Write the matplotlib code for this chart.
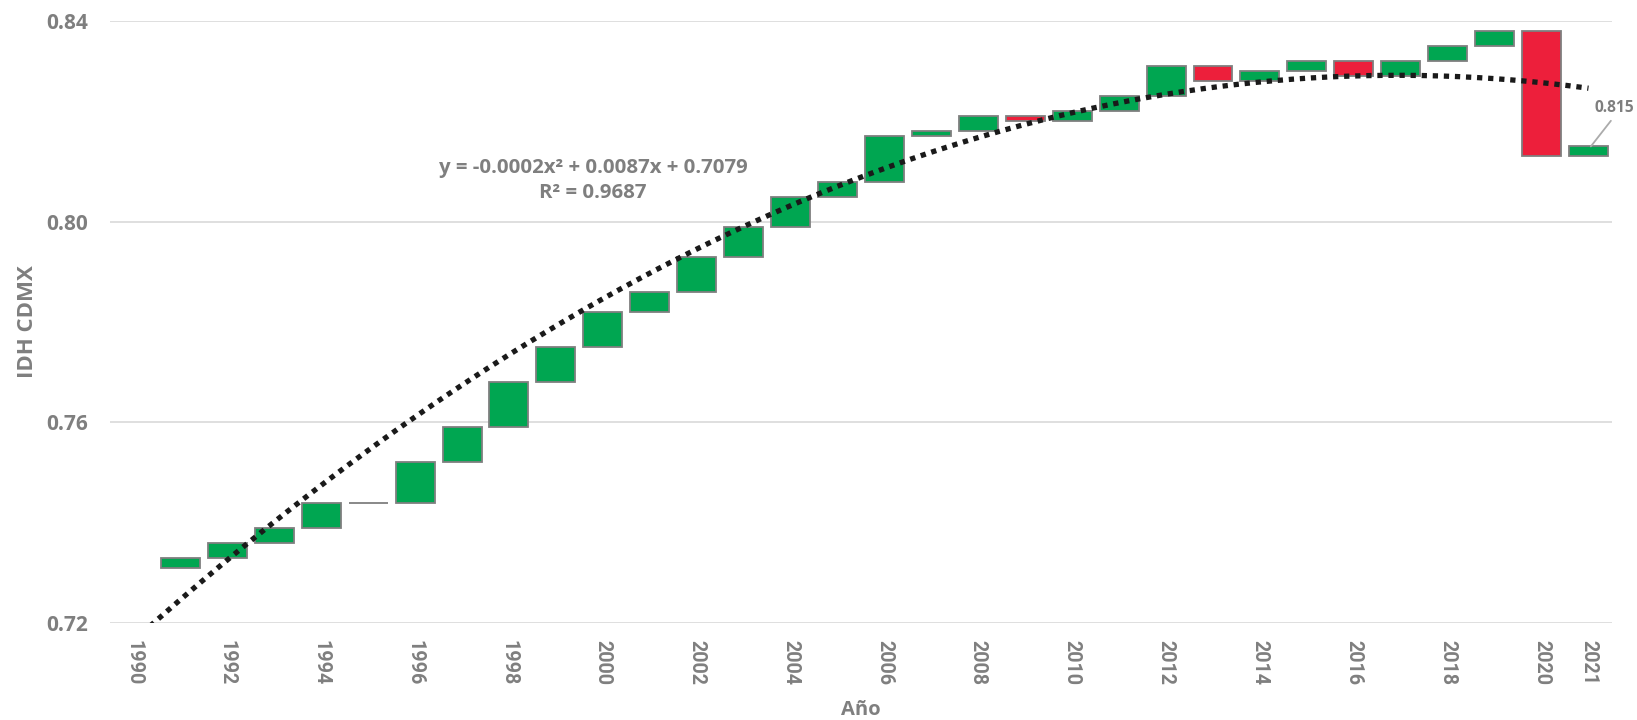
import numpy as np
import matplotlib
matplotlib.use("Agg")
import matplotlib.pyplot as plt

years = list(range(1990, 2022))
idh = [0.731, 0.733, 0.736, 0.739, 0.744, 0.744, 0.752, 0.759, 0.768, 0.775,
       0.782, 0.786, 0.793, 0.799, 0.805, 0.808, 0.817, 0.818, 0.821, 0.820,
       0.822, 0.825, 0.831, 0.828, 0.830, 0.832, 0.829, 0.832, 0.835, 0.838,
       0.813, 0.815]
tick_years = [1990, 1992, 1994, 1996, 1998, 2000, 2002, 2004, 2006, 2008,
              2010, 2012, 2014, 2016, 2018, 2020, 2021]
y_ticks = [0.72, 0.76, 0.80, 0.84]
eq_text = "y = -0.0002x² + 0.0087x + 0.7079\nR² = 0.9687"
last_label = "0.815"

GREEN = "#00A651"
RED = "#ED1F3B"
EDGE = "#7F7F7F"
GREY = "#7F7F7F"
CAL = ["Open Sans", "DejaVu Sans"]
NARROW = ["Roboto", "DejaVu Sans"]

fig = plt.figure(figsize=(16.37, 7.2), dpi=100)
ax = fig.add_axes([0.0672, 0.1347, 0.9175, 0.8361])

x = np.arange(len(years))
prev = np.array(idh[:-1])
cur = np.array(idh[1:])
bottoms = np.minimum(prev, cur)
heights = np.abs(cur - prev)
colors = [GREEN if c >= p else RED for p, c in zip(prev, cur)]
ax.bar(x[1:], heights, bottom=bottoms, width=0.83, color=colors,
       edgecolor=EDGE, linewidth=1.3, zorder=3)

# quadratic trend line (Excel style, x = 1..n)
xn = np.arange(1, len(years) + 1)
coef = np.polyfit(xn, idh, 2)
xs = np.linspace(1, len(years), 400)
ax.plot(xs - 1, np.polyval(coef, xs), color="#1A1A1A", lw=3.8,
        linestyle=(0, (1, 1.1)), dash_capstyle="butt", zorder=4)

ax.text(9.79, 0.8082, eq_text, ha="center", va="center", fontsize=14.7,
        fontweight="bold", color=GREY, family=CAL, linespacing=1.3)

# data label for last point
ax.annotate(last_label, xy=(x[-1] + 0.05, idh[-1]), xytext=(x[-1] + 0.56, 0.8227),
            ha="center", va="center", fontsize=11.2, fontweight="bold",
            color=GREY, family=CAL,
            arrowprops=dict(arrowstyle="-", color="#ABABAB", lw=1.3,
                            shrinkA=2, shrinkB=0, relpos=(0.5, 0.0)))

ax.set_xlim(-0.5, len(years) - 0.5)
ax.set_ylim(0.72, 0.84)
ax.set_yticks(y_ticks)
ax.set_yticklabels([f"{v:.2f}" for v in y_ticks], fontsize=15,
                   fontweight="bold", color=GREY, family=CAL)
ax.set_xticks([years.index(t) for t in tick_years])
ax.set_xticklabels([str(t) for t in tick_years], rotation=270, fontsize=14.2,
                   fontweight="bold", color=GREY, family=NARROW)
ax.tick_params(axis="x", length=0, pad=12)
ax.tick_params(axis="y", length=0, pad=16)
ax.grid(axis="y", color="#D9D9D9", lw=1.2, zorder=0)
ax.set_axisbelow(True)
for s in ax.spines.values():
    s.set_visible(False)

ax.set_xlabel("Año", fontsize=14.5, fontweight="bold", color=GREY, family=CAL)
ax.xaxis.set_label_coords(0.5, -0.128)
ax.set_ylabel("IDH CDMX", fontsize=16, fontweight="bold", color=GREY,
              family=CAL)
ax.yaxis.set_label_coords(-0.048, 0.5)

fig.savefig("out.png", dpi=100)
